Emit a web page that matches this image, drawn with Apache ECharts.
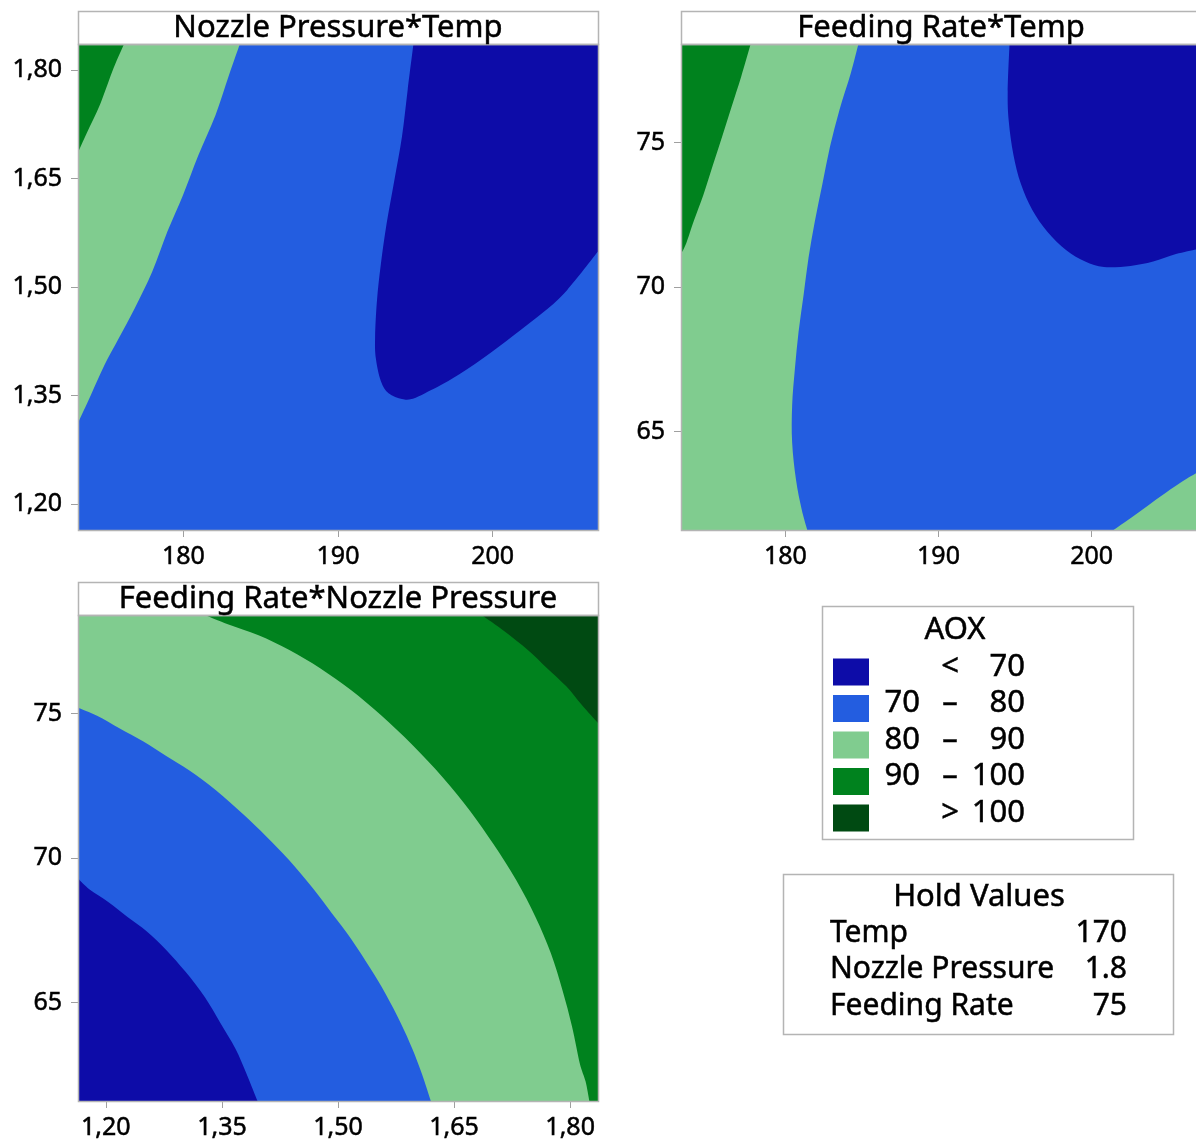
<!DOCTYPE html>
<html>
<head>
<meta charset="utf-8">
<script src="https://cdn.jsdelivr.net/npm/echarts@6/dist/echarts.min.js"></script>
<style>
  html, body { margin: 0; padding: 0; background: #fff; }
  #chart { width: 1196px; height: 1144px; }
</style>
</head>
<body>
<div id="chart"></div>
<script>
// Factor ranges of the design space (axis extents)
const tempRange = [173.18, 206.82];
const pressureRange = [1.164, 1.836];
const feedRange = [61.59, 78.41];

// Tick values
const tempTicks = [180, 190, 200];
const pressureTicks = [1.20, 1.35, 1.50, 1.65, 1.80];
const feedTicks = [65, 70, 75];

// AOX bands
const bandLabels = [['', '<', '70'], ['70', '\u2013', '80'], ['80', '\u2013', '90'], ['90', '\u2013', '100'], ['', '>', '100']];
const holdNames = ['Temp', 'Nozzle Pressure', 'Feeding Rate'];
const holdValues = ['170', '1.8', '75'];

// Contour lines: Nozzle Pressure (y) vs Temp (x)
const npT_90 = [[176.16,1.836],[175.49,1.803],[174.62,1.753],[173.75,1.713],[173.18,1.686]];
const npT_80 = [[183.65,1.836],[182.95,1.793],[182.08,1.738],[180.96,1.682],[179.97,1.627],[178.97,1.577],[177.98,1.521],[176.86,1.471],[175.74,1.426],[174.87,1.391],[174.0,1.350],[173.18,1.312]];
const npT_70 = [[194.88,1.836],[194.51,1.773],[194.14,1.708],[193.64,1.647],[193.14,1.587],[192.77,1.531],[192.52,1.481],[192.40,1.431],[192.45,1.401],[192.77,1.370],[193.27,1.353],[194.14,1.345],[194.76,1.345],[195.63,1.353],[197.37,1.373],[199.36,1.401],[201.35,1.433],[203.34,1.466],[204.83,1.496],[206.82,1.549]];

// Contour lines: Feeding Rate (y) vs Temp (x)
const frT_90 = [[177.73,78.41],[177.11,77.28],[176.49,76.25],[175.88,75.23],[175.26,74.21],[174.64,73.18],[174.02,72.29],[173.53,71.52],[173.18,71.14]];
const frT_80 = [[184.77,78.41],[184.27,77.40],[183.53,76.13],[182.91,74.85],[182.42,73.57],[181.93,72.29],[181.51,71.01],[181.19,69.73],[180.86,68.45],[180.62,67.17],[180.44,65.90],[180.44,64.62],[180.69,63.34],[181.06,62.31],[181.43,61.59]];
const frT_70 = [[194.64,78.41],[194.52,76.76],[194.59,75.74],[194.89,74.59],[195.38,73.57],[196.12,72.67],[197.11,71.91],[198.35,71.27],[199.58,70.88],[200.81,70.69],[202.54,70.73],[204.02,70.88],[205.51,71.14],[206.82,71.30]];
const frT_80b = [[201.43,61.59],[203.04,62.19],[204.52,62.76],[205.75,63.21],[206.82,63.55]];

// Contour lines: Feeding Rate (y) vs Nozzle Pressure (x)
const frNp_70 = [[1.164,69.29],[1.179,68.91],[1.2035,68.47],[1.228,67.96],[1.253,67.46],[1.278,66.82],[1.303,66.06],[1.328,65.18],[1.348,64.29],[1.3675,63.40],[1.382,62.52],[1.396,61.59]];
const frNp_80 = [[1.164,75.20],[1.1886,74.92],[1.218,74.48],[1.248,74.04],[1.278,73.53],[1.308,73.03],[1.343,72.33],[1.3775,71.51],[1.407,70.75],[1.437,69.92],[1.467,68.97],[1.492,68.09],[1.517,67.20],[1.5415,66.19],[1.5614,65.30],[1.581,64.29],[1.596,63.40],[1.6086,62.52],[1.620,61.59]];
const frNp_90 = [[1.3278,78.41],[1.3576,78.09],[1.3973,77.71],[1.4371,77.20],[1.4769,76.57],[1.5167,75.81],[1.5564,74.92],[1.5962,73.91],[1.636,72.77],[1.6707,71.63],[1.7006,70.49],[1.7304,69.23],[1.7552,67.96],[1.7751,66.70],[1.790,65.43],[1.8025,64.16],[1.8124,62.90],[1.8199,62.27],[1.8248,61.59]];
const frNp_100 = [[1.6857,78.41],[1.7155,77.84],[1.7453,77.20],[1.7702,76.57],[1.795,75.94],[1.8149,75.30],[1.836,74.67]];

// Band fill colours (<70, 70-80, 80-90, 90-100, >100)
const bandColors = ['#0d0ca8', '#235de0', '#80cc8f', '#00821e', '#004a12'];

// Filled regions: band index, a contour line, then plot corners closing the area
const regions1 = [
  { band: 1, line: [], corners: [[tempRange[0], pressureRange[0]], [tempRange[1], pressureRange[0]], [tempRange[1], pressureRange[1]], [tempRange[0], pressureRange[1]]] },
  { band: 2, line: npT_80, corners: [[tempRange[0], pressureRange[1]]] },
  { band: 3, line: npT_90, corners: [[tempRange[0], pressureRange[1]]] },
  { band: 0, line: npT_70, corners: [[tempRange[1], pressureRange[1]]] }
];
const regions2 = [
  { band: 1, line: [], corners: [[tempRange[0], feedRange[0]], [tempRange[1], feedRange[0]], [tempRange[1], feedRange[1]], [tempRange[0], feedRange[1]]] },
  { band: 2, line: frT_80, corners: [[tempRange[0], feedRange[0]], [tempRange[0], feedRange[1]]] },
  { band: 3, line: frT_90, corners: [[tempRange[0], feedRange[1]]] },
  { band: 0, line: frT_70, corners: [[tempRange[1], feedRange[1]]] },
  { band: 2, line: frT_80b, corners: [[tempRange[1], feedRange[0]]] }
];
const regions3 = [
  { band: 2, line: [], corners: [[pressureRange[0], feedRange[0]], [pressureRange[1], feedRange[0]], [pressureRange[1], feedRange[1]], [pressureRange[0], feedRange[1]]] },
  { band: 3, line: frNp_90, corners: [[pressureRange[1], feedRange[0]], [pressureRange[1], feedRange[1]]] },
  { band: 4, line: frNp_100, corners: [[pressureRange[1], feedRange[1]]] },
  { band: 1, line: frNp_80, corners: [[pressureRange[0], feedRange[0]]] },
  { band: 0, line: frNp_70, corners: [[pressureRange[0], feedRange[0]]] }
];

const FONT = '"Noto Sans", "Open Sans", sans-serif';
const TEXT = '#000';
const FRAME = '#b4b4b4';

function commaFmt(v) { return v.toFixed(2).replace('.', ','); }

// Path through the contour line (Catmull-Rom curve), then straight edges via the corners
function regionPath(linePx, cornerPx) {
  let d = '';
  if (linePx.length) {
    d += 'M' + linePx[0][0] + ' ' + linePx[0][1];
    const n = linePx.length;
    for (let i = 0; i < n - 1; i++) {
      const p0 = linePx[Math.max(i - 1, 0)], p1 = linePx[i], p2 = linePx[i + 1], p3 = linePx[Math.min(i + 2, n - 1)];
      const c1 = [p1[0] + (p2[0] - p0[0]) / 6, p1[1] + (p2[1] - p0[1]) / 6];
      const c2 = [p2[0] - (p3[0] - p1[0]) / 6, p2[1] - (p3[1] - p1[1]) / 6];
      d += 'C' + c1[0] + ' ' + c1[1] + ' ' + c2[0] + ' ' + c2[1] + ' ' + p2[0] + ' ' + p2[1];
    }
    cornerPx.forEach(c => { d += 'L' + c[0] + ' ' + c[1]; });
  } else {
    cornerPx.forEach((c, i) => { d += (i ? 'L' : 'M') + c[0] + ' ' + c[1]; });
  }
  return d + 'Z';
}

function contourSeries(idx, regions) {
  return {
    type: 'custom',
    xAxisIndex: idx, yAxisIndex: idx,
    silent: true,
    data: regions.map(r => (r.line[0] || r.corners[0])),
    encode: { x: 0, y: 1 },
    renderItem: function (params, api) {
      const r = regions[params.dataIndex];
      const d = regionPath(r.line.map(p => api.coord(p)), r.corners.map(p => api.coord(p)));
      return {
        type: 'path',
        shape: { pathData: d },
        style: { fill: bandColors[r.band], stroke: null }
      };
    }
  };
}

function makeAxis(idx, range, ticks, fmt, isX) {
  return {
    type: 'value', gridIndex: idx, min: range[0], max: range[1],
    axisLine: { show: false },
    splitLine: { show: false },
    axisTick: { show: true, length: 7, customValues: ticks, lineStyle: { color: '#a0a0a0', width: 1 } },
    axisLabel: {
      customValues: ticks, formatter: fmt, fontFamily: FONT, fontSize: 25, color: TEXT,
      textBorderColor: TEXT, textBorderWidth: 0.5,
      margin: isX ? 14 : 16
    }
  };
}

// Plot geometry
const plots = [
  { left: 78, top: 44, width: 520, height: 486, title: 'Nozzle Pressure*Temp' },
  { left: 681, top: 44, width: 518, height: 486, title: 'Feeding Rate*Temp' },
  { left: 78, top: 615, width: 520, height: 486, title: 'Feeding Rate*Nozzle Pressure' }
];

function txt(x, y, s, align, size) {
  return {
    type: 'text', z: 101, silent: true, x: x, y: y,
    style: {
      text: s, font: (size || 30) + 'px ' + FONT, fill: TEXT,
      stroke: TEXT, lineWidth: 0.5,
      textAlign: align, textVerticalAlign: 'middle'
    }
  };
}

const graphics = [];
plots.forEach(p => {
  graphics.push({
    type: 'rect', z: 100, silent: true,
    shape: { x: p.left + 0.5, y: p.top - 32.5, width: p.width, height: 33 },
    style: { fill: '#fff', stroke: FRAME, lineWidth: 1.5 }
  });
  graphics.push(txt(p.left + 260, p.top - 16, p.title, 'center', 31));
  graphics.push({
    type: 'rect', z: 100, silent: true,
    shape: { x: p.left + 0.5, y: p.top + 0.5, width: p.width, height: p.height },
    style: { fill: 'none', stroke: FRAME, lineWidth: 1.5 }
  });
});

// AOX legend
graphics.push({
  type: 'rect', z: 100, silent: true,
  shape: { x: 822.5, y: 606.5, width: 311, height: 233 },
  style: { fill: '#fff', stroke: FRAME, lineWidth: 1.5 }
});
graphics.push(txt(955, 630, 'AOX', 'center', 31));
bandLabels.forEach((lab, i) => {
  const cy = 672 + i * 36.5;
  graphics.push({
    type: 'rect', z: 101, silent: true,
    shape: { x: 833, y: cy - 13.5, width: 36, height: 27 },
    style: { fill: bandColors[i] }
  });
  graphics.push(txt(920, cy - 5, lab[0], 'right', 31));
  graphics.push(txt(950, cy - 5, lab[1], 'center', 31));
  graphics.push(txt(1025, cy - 5, lab[2], 'right', 31));
});

// Hold values box
graphics.push({
  type: 'rect', z: 100, silent: true,
  shape: { x: 783.5, y: 874.5, width: 390, height: 160 },
  style: { fill: '#fff', stroke: FRAME, lineWidth: 1.5 }
});
graphics.push(txt(979, 897, 'Hold Values', 'center', 31));
holdNames.forEach((n, i) => {
  const cy = 933 + i * 36.5;
  graphics.push(txt(830, cy, n, 'left', 30));
  graphics.push(txt(1127, cy, holdValues[i], 'right', 30));
});

const chart = echarts.init(document.getElementById('chart'), null, { renderer: 'canvas' });
chart.setOption({
  animation: false,
  backgroundColor: '#fff',
  grid: plots.map(p => ({ left: p.left, top: p.top, width: p.width, height: p.height, containLabel: false })),
  xAxis: [
    makeAxis(0, tempRange, tempTicks, v => String(v), true),
    makeAxis(1, tempRange, tempTicks, v => String(v), true),
    makeAxis(2, pressureRange, pressureTicks, commaFmt, true)
  ],
  yAxis: [
    makeAxis(0, pressureRange, pressureTicks, commaFmt, false),
    makeAxis(1, feedRange, feedTicks, v => String(v), false),
    makeAxis(2, feedRange, feedTicks, v => String(v), false)
  ],
  series: [
    contourSeries(0, regions1),
    contourSeries(1, regions2),
    contourSeries(2, regions3)
  ],
  graphic: graphics
});
</script>
</body>
</html>
